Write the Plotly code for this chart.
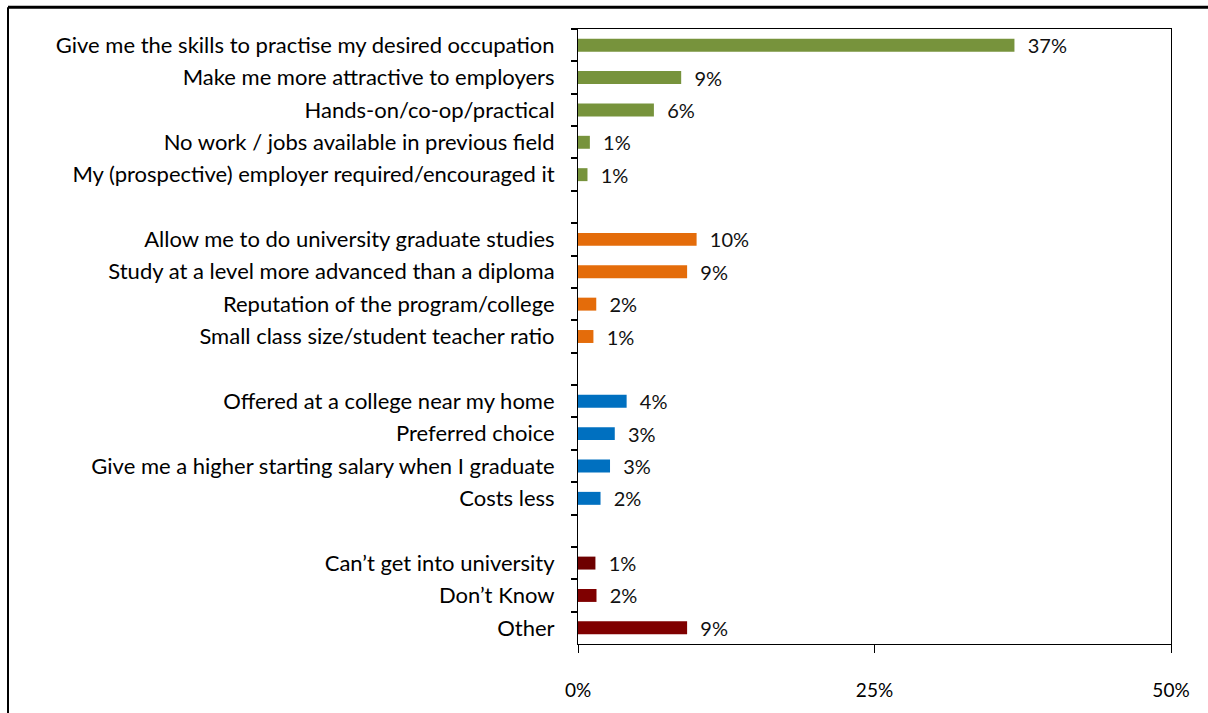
import plotly.graph_objects as go

# Reasons for choosing the program, grouped by theme (percent of respondents)
career_labels = [
    "Give me the skills to practise my desired occupation",
    "Make me more attractive to employers",
    "Hands-on/co-op/practical",
    "No work / jobs available in previous field",
    "My (prospective) employer required/encouraged it",
]
career_values = [36.8, 8.7, 6.4, 1.0, 0.8]

academic_labels = [
    "Allow me to do university graduate studies",
    "Study at a level more advanced than a diploma",
    "Reputation of the program/college",
    "Small class size/student teacher ratio",
]
academic_values = [10.0, 9.2, 1.54, 1.3]

practical_labels = [
    "Offered at a college near my home",
    "Preferred choice",
    "Give me a higher starting salary when I graduate",
    "Costs less",
]
practical_values = [4.1, 3.1, 2.7, 1.9]

other_labels = ["Can\u2019t get into university", "Don\u2019t Know", "Other"]
other_values = [1.47, 1.56, 9.2]

x_ticks = [0, 25, 50]
x_tick_text = ["0%", "25%", "50%"]

groups = [
    (career_labels, career_values, ["#77933C"] * 5),
    (academic_labels, academic_values, ["#E46C0A"] * 4),
    (practical_labels, practical_values, ["#0070C0"] * 4),
    (other_labels, other_values, ["#6E0000", "#7F0000", "#7F0000"]),
]

# Flatten groups, inserting an empty spacer row between them
cats, vals, cols = [], [], []
for i, (labs, vs, cs) in enumerate(groups):
    if i > 0:
        cats.append(" " * i)
        vals.append(None)
        cols.append("#FFFFFF")
    cats += labs
    vals += vs
    cols += cs

FONT = "Lato, Liberation Sans, Arial, sans-serif"
label_font = dict(family=FONT, size=20, color="#111111")

fig = go.Figure(
    go.Bar(
        y=cats,
        x=vals,
        orientation="h",
        marker=dict(color=cols, line=dict(width=0)),
        width=0.4,
        texttemplate="\u00a0\u00a0%{x:.0f}%",
        textposition="outside",
        textfont=label_font,
        outsidetextfont=label_font,
        constraintext="none",
        cliponaxis=False,
        hoverinfo="skip",
    )
)

W, H = 1208, 713
ML, MR, MT, MB = 578, 37, 29, 63
pw, ph = W - ML - MR, H - MT - MB

fig.update_layout(
    width=W,
    height=H,
    margin=dict(l=ML, r=MR, t=MT, b=MB, pad=0),
    paper_bgcolor="white",
    plot_bgcolor="white",
    showlegend=False,
    bargap=0.6,
    uniformtext=dict(mode=False),
    xaxis=dict(
        range=[0, 50],
        tickvals=x_ticks,
        ticktext=x_tick_text,
        ticks="outside",
        ticklen=8,
        tickcolor="black",
        tickwidth=1,
        showline=True,
        linecolor="black",
        linewidth=1,
        mirror=True,
        showgrid=False,
        zeroline=False,
        ticklabelstandoff=21,
        tickfont=dict(family=FONT, size=19, color="black"),
    ),
    yaxis=dict(
        type="category",
        categoryorder="array",
        categoryarray=cats,
        autorange="reversed",
        tickson="boundaries",
        ticks="outside",
        ticklen=6,
        tickcolor="black",
        tickwidth=1.5,
        showline=True,
        linecolor="black",
        linewidth=1,
        mirror=True,
        showgrid=False,
        ticklabelstandoff=18,
        tickfont=dict(family=FONT, size=22, color="black"),
    ),
)

# Outer chart frame (top and left edges)
x_left = (8 - ML) / pw
y_top = (H - MB - 7) / ph
fig.add_shape(type="line", xref="paper", yref="paper",
              x0=x_left, x1=(W + 10 - ML) / pw, y0=y_top, y1=y_top,
              line=dict(color="black", width=3))
fig.add_shape(type="line", xref="paper", yref="paper",
              x0=x_left, x1=x_left, y0=y_top, y1=-(MB + 10) / ph,
              line=dict(color="black", width=2))

fig.write_html("out.html")
